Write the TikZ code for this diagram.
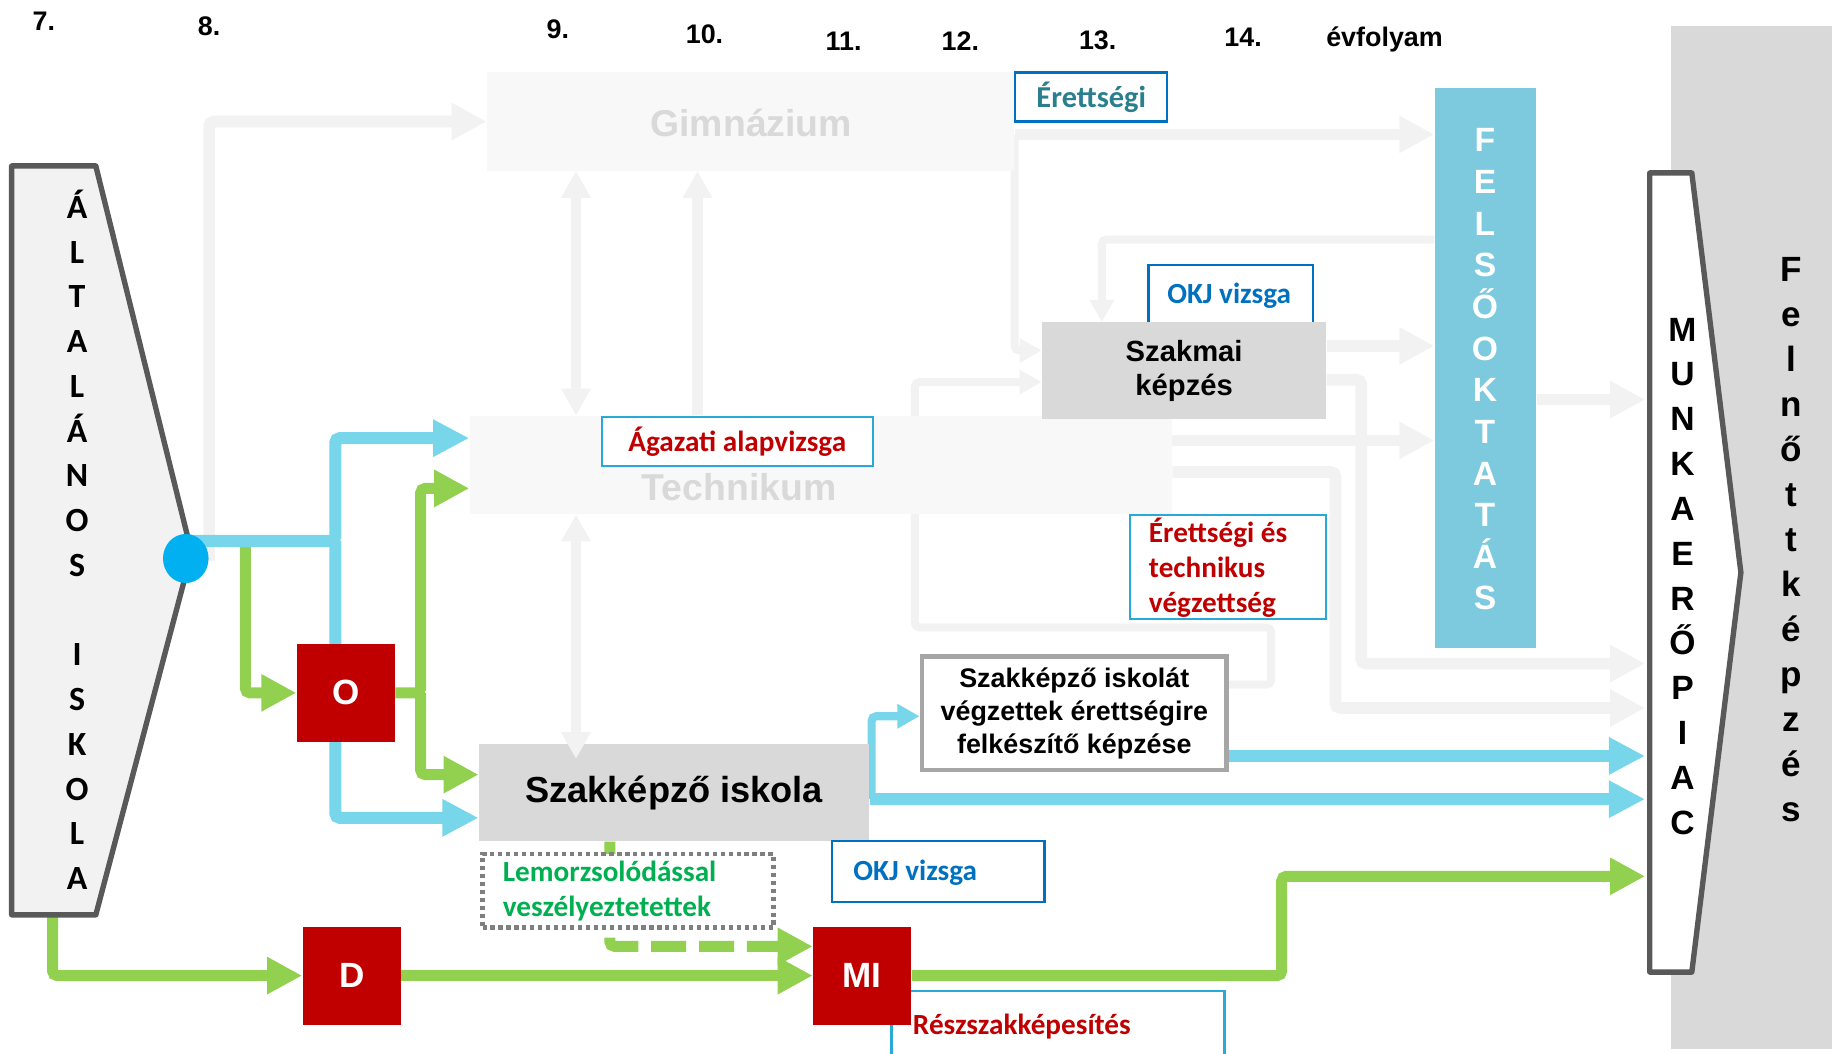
\documentclass[tikz,border=0pt]{standalone}
\usepackage{fontspec}
\setmainfont{Liberation Sans}
\newfontfamily\calib{Carlito}
\usetikzlibrary{arrows.meta,shapes.geometric}
\pgfdeclarelayer{bg}
\pgfsetlayers{bg,main}
\definecolor{lgr}{HTML}{F2F2F2}
\definecolor{boxlg}{HTML}{F8F8F8}
\definecolor{txtg}{HTML}{D9D9D9}
\definecolor{midg}{HTML}{D9D9D9}
\definecolor{felsob}{HTML}{7DCADF}
\definecolor{blueln}{HTML}{78D6EA}
\definecolor{dotb}{HTML}{00B0F0}
\definecolor{grn}{HTML}{92D050}
\definecolor{redb}{HTML}{C00000}
\definecolor{tealtx}{HTML}{2A7F8E}
\definecolor{okjb}{HTML}{0070C0}
\definecolor{cyb}{HTML}{29A9D6}
\definecolor{grtx}{HTML}{00B050}
\definecolor{dotg}{HTML}{7F7F7F}
\definecolor{frameg}{HTML}{A6A6A6}
\definecolor{shapeg}{HTML}{595959}
\newcommand\myfs[2]{\fontsize{#1}{#2}\selectfont}
\tikzset{
  gline/.style={draw=lgr, line width=5pt, rounded corners=2pt, -{Triangle[length=15pt,width=15pt]}},
  glinethin/.style={draw=lgr, line width=3.4pt, rounded corners=2pt, -{Triangle[length=9.5pt,width=10pt]}},
  gtwo/.style={draw=lgr, line width=4.5pt, {Triangle[length=11.5pt,width=12pt]}-{Triangle[length=11.5pt,width=12pt]}},
  gone/.style={draw=lgr, line width=4.5pt, -{Triangle[length=11.5pt,width=12pt]}},
  bline/.style={draw=blueln, line width=5.2pt, rounded corners=2pt, -{Triangle[length=15.5pt,width=15pt]}},
  blinethin/.style={draw=blueln, line width=3.5pt, rounded corners=2pt, -{Triangle[length=9.5pt,width=10pt]}},
  gnline/.style={draw=grn, line width=4.7pt, rounded corners=2pt, -{Triangle[length=15pt,width=15pt]}},
  redbox/.style={fill=redb, text=white, minimum width=42pt, minimum height=42pt, inner sep=0pt, font=\bfseries\myfs{15}{18}},
  ghosttxt/.style={text=txtg, font=\bfseries\myfs{16}{19}, anchor=base, inner sep=0pt},
  lab/.style={font=\bfseries\myfs{11.5}{13}, anchor=base, inner sep=0pt},
  vlet/.style={font=\bfseries\myfs{14.4}{16}, anchor=base, inner sep=0pt},
  alet/.style={font=\calib\bfseries\myfs{14.5}{16}, anchor=base, inner sep=0pt},
  ctxt/.style={font=\calib\bfseries\myfs{12.5}{15}, inner sep=0pt},
  framebox/.style={fill=white, inner sep=0pt},
}
\begin{document}
\begin{tikzpicture}[x=0.5pt,y=-0.5pt]
\useasboundingbox (0,0) rectangle (1568,902);

% helper coordinates
\foreach \v in {45,179,210,287,360,493,522,597,746,783,943,1088,1097,1143,1165}
  \coordinate (x\v) at (\v,0);
\foreach \v in {115,205,296,300,325,327,342,375,377,404,418,463,480,537,568,586,606,613,647,663,684,700,750,783,810}
  \coordinate (y\v) at (0,\v);
\coordinate (mkW) at (1408,490);

% ---------- boxes ----------
\node[fill=boxlg, inner sep=0pt, minimum width=225.5pt, minimum height=42pt] (gim) at (642.5,104) {};
\node[ghosttxt] (gimt) at (643,116.5) {Gimnázium};
\node[fill=boxlg, inner sep=0pt, minimum width=300.5pt, minimum height=42pt] (tech) at (702.5,398) {};
\node[ghosttxt] (techt) at (632.5,428.5) {Technikum};

\node[framebox, draw=okjb, line width=1pt, minimum width=65pt, minimum height=21pt, text=tealtx, font=\calib\bfseries\myfs{13}{15}] (erett) at (934,83) {Érettségi};

\node[fill=felsob, inner sep=0pt, minimum width=43.5pt, minimum height=240pt] (felso) at (1271.5,315) {};
\foreach \l [count=\i from 0] in {F,E,L,S,Ő,O,K,T,A,T,Á,S}
  \node[vlet, text=white] (fo\i) at (1271,{130+35.64*\i}) {\l};

\node[framebox, draw=okjb, line width=1pt, minimum width=70.5pt, minimum height=30pt] (okj1) at (1053.5,257) {};
\node[ctxt, text=okjb] (okj1t) at (1052,253) {OKJ vizsga};
\node[fill=midg, inner sep=0pt, minimum width=121.5pt, minimum height=41.5pt, align=center, font=\bfseries\myfs{12.5}{14.5}] (szakmai) at (1013.5,317.5) {Szakmai\\képzés};

\node[framebox, draw=cyb, line width=0.9pt, minimum width=116pt, minimum height=21pt, text=redb, font=\calib\bfseries\myfs{12.5}{15}] (agazati) at (631,378) {Ágazati alapvizsga};

\node[framebox, draw=cyb, line width=0.9pt, minimum width=84pt, minimum height=44.5pt] (erettes) at (1051,485.5) {};
\node[ctxt, text=redb, align=left, anchor=west] (erettest) at (983,486) {Érettségi és\\technikus\\végzettség};

\node[framebox, draw=frameg, line width=2pt, minimum width=130.5pt, minimum height=48.5pt, align=center, font=\bfseries\myfs{11.5}{14}] (szikolat) at (919.5,610.5) {Szakképző iskolát\\végzettek érettségire\\felkészítő képzése};

\node[fill=midg, inner sep=0pt, minimum width=167pt, minimum height=41.5pt, font=\bfseries\myfs{15.5}{18}] (szi) at (577,678.5) {Szakképző iskola};

\node[framebox, draw=dotg, line width=2pt, dash pattern=on 1.8pt off 1.6pt, minimum width=124.5pt, minimum height=31.5pt] (lemor) at (537.5,762.5) {};
\node[ctxt, text=grtx, align=left, anchor=west] (lemort) at (430,763) {Lemorzsolódással\\veszélyeztetettek};

\node[framebox, draw=okjb, line width=1pt, minimum width=91pt, minimum height=26pt] (okj2) at (803,746) {};
\node[ctxt, text=okjb, anchor=west] (okj2t) at (730,747) {OKJ vizsga};

\node[framebox, draw=cyb, line width=0.9pt, minimum width=142.5pt, minimum height=36pt] (resz) at (905.5,884) {};
\node[ctxt, text=redb, anchor=west, font=\calib\bfseries\myfs{12.5}{15}] (reszt) at (781,879) {Részszakképesítés};

\node[redbox] (O) at (296,593) {O};
\node[redbox] (D) at (301,835) {D};
\node[redbox] (MI) at (738,835) {MI};

% ---------- arrows (background layer) ----------
\begin{pgfonlayer}{bg}
\node[fill=midg, inner sep=0pt, minimum width=69pt, minimum height=438pt] (felnbg) at (1499,460) {};
% gray
\draw[gline] (x179 |- y480) |- (gim.west);
\draw[gtwo] (gim.south -| x493) -- (tech.north -| x493);
\draw[gone] (tech.north -| x597) -- (gim.south -| x597);
\draw[gline] (gim.east |- y115) -- (felso.west |- y115);
\draw[glinethin] (gim.east |- y115) |- (szakmai.west |- y300);
\draw[glinethin] (felso.west |- y205) -| (szakmai.north -| x943);
\draw[gline] (szakmai.east |- y296) -- (felso.west |- y296);
\draw[gline] (szakmai.east |- y325) -| (x1165 |- y568) -- (mkW |- y568);
\draw[gline] (tech.east |- y377) -- (felso.west |- y377);
\draw[gline] (tech.east |- y404) -| (x1143 |- y606) -- (mkW |- y606);
\draw[gline] (felso.east |- y342) -- (mkW |- y342);
\draw[glinethin] (szikolat.east |- y586) -| (x1088 |- y537) -| (x783 |- y327) -- (szakmai.west |- y327);
% green
\draw[gnline] (x210 |- y463) |- (O.west);
\draw[gnline] (O.east) -| (x360 |- y418) -- (tech.west |- y418);
\draw[gnline] (x360 |- O.east) |- (szi.west |- y663);
\draw[gnline] (x45 |- y783) |- (D.west);
\draw[gnline] (D.east) -- (MI.west);
\draw[gnline] (MI.east) -| (x1097 |- y750) -- (mkW |- y750);
\draw[gnline, dash pattern=on 15pt off 5.5pt] (szi.south -| x522) |- (MI.west |- y810);
% blue
\draw[bline] (159,463) -| (x287 |- y375) -- (tech.west |- y375);
\draw[bline] (x287 |- y463) |- (szi.west |- y700);
\draw[bline] (szi.east |- y684) -- (mkW |- y684);
\draw[blinethin] (x746 |- y684) |- (szikolat.west |- y613);
\draw[bline] (szikolat.east |- y647) -- (mkW |- y647);
\end{pgfonlayer}

% double arrow over Szakkepzo iskola
\draw[gtwo] (tech.south -| x493) -- ([yshift=-6.5pt]szi.north -| x493);

% ---------- Általános iskola ----------
\draw[draw=shapeg, fill=lgr, line width=2.3pt, line join=round] (10,142) -- (82,142) -- (164,473) -- (82,783) -- (10,783) -- cycle;
\foreach \l [count=\i from 0] in {Á,L,T,A,L,Á,N,O,S}
  \node[alet] (al\i) at (66,{187+38.3*\i}) {\l};
\foreach \l [count=\i from 10] in {I,S,K,O,L,A}
  \node[alet] (al\i) at (66,{187+38.3*\i}) {\l};
\node[ellipse, fill=dotb, inner sep=0pt, minimum width=19.5pt, minimum height=21pt] (dot) at (159,478) {};

% ---------- Munkaerőpiac ----------
\draw[draw=shapeg, fill=white, line width=2.3pt, line join=round] (1412,148) -- (1448,148) -- (1490,490) -- (1448,832) -- (1412,832) -- cycle;
\foreach \l [count=\i from 0] in {M,U,N,K,A,E,R,Ő,P,I,A,C}
  \node[vlet] (mk\i) at (1440,{292+38.36*\i}) {\l};
\foreach \l [count=\i from 0] in {F,e,l,n,ő,t,t,k,é,p,z,é,s}
  \node[vlet, font=\bfseries\myfs{15}{17}] (fn\i) at (1533,{241+38.5*\i}) {\l};

% ---------- grade labels ----------
\node[lab] (l7) at (37.5,26) {7.};
\node[lab] (l8) at (179,30) {8.};
\node[lab] (l9) at (477.5,33) {9.};
\node[lab] (l10) at (603,37) {10.};
\node[lab] (l11) at (722,43.5) {11.};
\node[lab] (l12) at (822,43) {12.};
\node[lab] (l13) at (939.5,42.5) {13.};
\node[lab] (l14) at (1064,40) {14.};
\node[lab] (levf) at (1185,40) {évfolyam};
\end{tikzpicture}
\end{document}
